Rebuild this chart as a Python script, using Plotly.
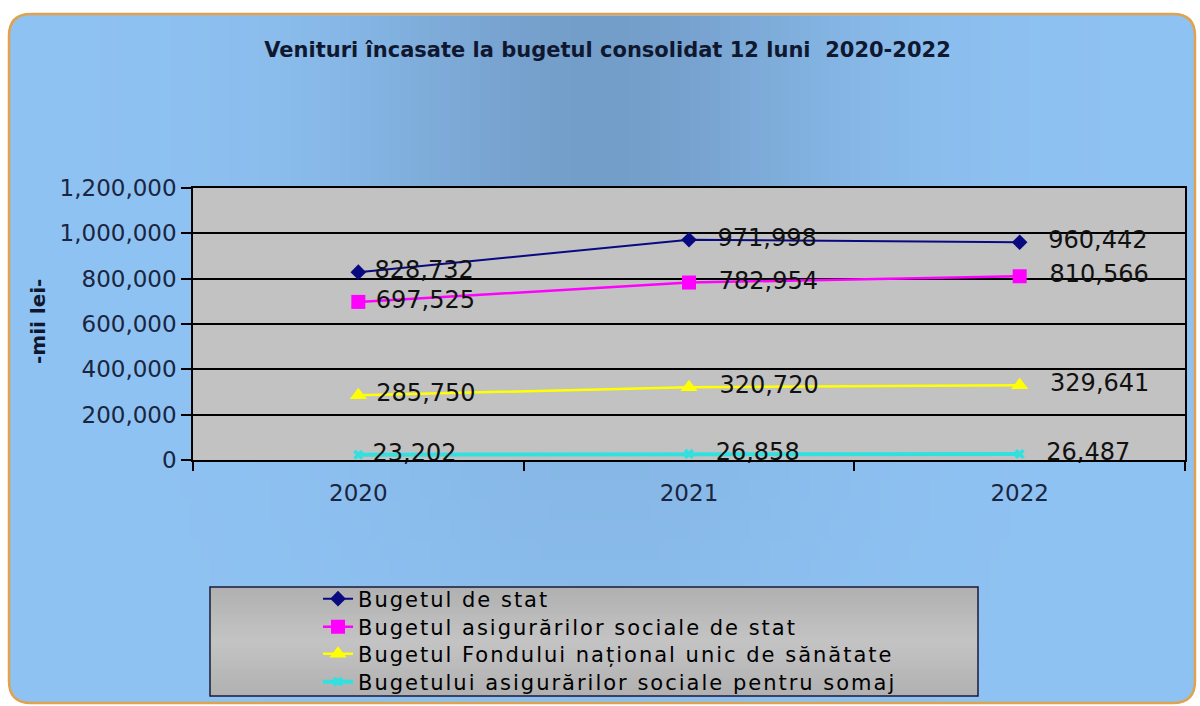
import math
import plotly.graph_objects as go

# ---------------- data ----------------
years = ["2020", "2021", "2022"]
bugetul_de_stat = [828732, 971998, 960442]
asigurari_sociale = [697525, 782954, 810566]
fond_sanatate = [285750, 320720, 329641]
somaj = [23202, 26858, 26487]

series_names = [
    "Bugetul de stat",
    "Bugetul asigurărilor sociale de stat",
    "Bugetul Fondului național unic de sănătate",
    "Bugetului asigurărilor sociale pentru somaj",
]
y_ticks = [0, 200000, 400000, 600000, 800000, 1000000, 1200000]

title_text = "Venituri încasate la bugetul consolidat 12 luni  2020-2022"
y_title = "-mii lei-"

# ---------------- layout geometry (pixels) ----------------
W, H = 1200, 706
L, R, T, B = 193, 15, 188, 246
PW = W - L - R
PH = H - T - B


def px(xp):
    return (xp - L) / PW


def py(yp):
    return (H - B - yp) / PH


fig = go.Figure()

styles = [
    dict(color="#0a0a80", symbol="diamond", size=12, width=2),
    dict(color="#ff00ff", symbol="square", size=14, width=2.5),
    dict(color="#ffff00", symbol="triangle-up", size=15, width=2.5),
    dict(color="#33e0e0", symbol="x", size=9, width=4),
]
values = [bugetul_de_stat, asigurari_sociale, fond_sanatate, somaj]
legend_ids = ["legend", "legend2", "legend3", "legend4"]
legend_rows = [599, 627, 654, 682]

# label spacing from the marker differs per year in the reference
NB = "\u00a0"
TS = "\u2009"
label_templates = [NB + "%{y:,d}", NB + NB + TS + "%{y:,d}", NB + NB + TS + "%{y:,d}"]

for name, vals, st, lg in zip(series_names, values, styles, legend_ids):
    fig.add_trace(
        go.Scatter(
            x=years,
            y=vals,
            mode="lines+markers+text",
            name='<span style="letter-spacing:2px">' + name + "</span>",
            legend=lg,
            line=dict(color=st["color"], width=st["width"]),
            marker=dict(symbol=st["symbol"], size=st["size"], color=st["color"],
                        line=dict(width=0)),
            texttemplate=label_templates,
            textposition="middle right",
            textfont=dict(family="DejaVu Sans", size=24, color="#111111"),
            cliponaxis=False,
        )
    )

shapes = []

# outer rounded frame
x0, x1, y0, y1 = 9, 1195, 14, 703
r = 22
path = (
    f"M {px(x0 + r)},{py(y0)} L {px(x1 - r)},{py(y0)} "
    f"Q {px(x1)},{py(y0)} {px(x1)},{py(y0 + r)} "
    f"L {px(x1)},{py(y1 - r)} Q {px(x1)},{py(y1)} {px(x1 - r)},{py(y1)} "
    f"L {px(x0 + r)},{py(y1)} Q {px(x0)},{py(y1)} {px(x0)},{py(y1 - r)} "
    f"L {px(x0)},{py(y0 + r)} Q {px(x0)},{py(y0)} {px(x0 + r)},{py(y0)} Z"
)
shapes.append(dict(type="path", path=path, xref="paper", yref="paper",
                   fillcolor="#8ec2f2", line=dict(color="#e0a24c", width=2.5),
                   layer="below"))

# soft darker shading in the background (decoration)
base = (142, 194, 242)
dark = (116, 158, 202)
bands = [(16, 188, 1.0)]
yb = 460
while yb < 700:
    frac = 0.3 - 0.22 * (yb - 460) / 240
    bands.append((yb, yb + 20, frac))
    yb += 20
step = 10
for (ya, yb, f) in bands:
    xs = 60
    while xs < 1140:
        xc = xs + step / 2
        t = math.exp(-((xc - 600) / 240) ** 2) * f
        col = tuple(int(round(b + (d - b) * t)) for b, d in zip(base, dark))
        shapes.append(dict(type="rect", xref="paper", yref="paper",
                           x0=px(xs), x1=px(xs + step + 0.5), y0=py(yb + 0.5), y1=py(ya),
                           fillcolor="rgb(%d,%d,%d)" % col, line=dict(width=0),
                           layer="below"))
        xs += step

# plot area background
shapes.append(dict(type="rect", xref="paper", yref="paper", x0=0, x1=1, y0=0, y1=1,
                   fillcolor="#c2c2c2", line=dict(width=0), layer="below"))

# legend box (light in the middle, darker at top and bottom)
lb_top, lb_bot = 587, 696
n_strips = 36
for i in range(n_strips):
    ya = lb_top + (lb_bot - lb_top) * i / n_strips
    yb2 = lb_top + (lb_bot - lb_top) * (i + 1) / n_strips
    mid = (i + 0.5) / n_strips
    v = int(round(176 + 20 * (1 - abs(mid - 0.5) * 2)))
    shapes.append(dict(type="rect", xref="paper", yref="paper",
                       x0=px(210), x1=px(978), y0=py(min(yb2 + 1, lb_bot)), y1=py(ya),
                       fillcolor="rgb(%d,%d,%d)" % (v, v, v), line=dict(width=0),
                       layer="below"))
shapes.append(dict(type="rect", xref="paper", yref="paper",
                   x0=px(210), x1=px(978), y0=py(lb_bot), y1=py(lb_top),
                   fillcolor="rgba(0,0,0,0)", line=dict(color="#1a1a3a", width=1.5),
                   layer="below"))

legend_font = dict(family="DejaVu Sans", size=21, color="#000000")
legend_layout = {}
for lg, row in zip(legend_ids, legend_rows):
    legend_layout[lg] = dict(x=px(318), xanchor="left", y=py(row), yanchor="middle",
                             bgcolor="rgba(0,0,0,0)", borderwidth=0,
                             font=legend_font)

fig.update_layout(
    width=W,
    height=H,
    margin=dict(l=L, r=R, t=T, b=B, autoexpand=False),
    paper_bgcolor="white",
    plot_bgcolor="rgba(0,0,0,0)",
    shapes=shapes,
    showlegend=True,
    title=dict(text="<b>" + title_text + "</b>", x=(262 + 953) / 2 / W, xref="container",
               xanchor="center", y=1 - 50 / H, yanchor="middle",
               font=dict(family="DejaVu Sans", size=21, color="#101830")),
    annotations=[
        dict(text="<b>" + y_title + "</b>", xref="paper", yref="paper",
             x=px(38), y=py(322), textangle=-90, showarrow=False,
             xanchor="center", yanchor="middle",
             font=dict(family="DejaVu Sans", size=20, color="#101830"))
    ],
    **legend_layout,
)

fig.update_xaxes(
    type="category",
    range=[-0.5, 2.5],
    tickson="boundaries",
    ticks="outside",
    ticklen=9,
    tickcolor="black",
    tickwidth=1.5,
    showline=True,
    linecolor="black",
    linewidth=1.5,
    mirror=True,
    showgrid=False,
    ticklabelstandoff=12,
    tickfont=dict(family="DejaVu Sans", size=23, color="#1a2540"),
)
fig.update_yaxes(
    range=[0, 1200000],
    tickvals=y_ticks,
    tickformat=",d",
    ticks="outside",
    ticklen=10,
    tickcolor="black",
    tickwidth=1.5,
    showline=True,
    linecolor="black",
    linewidth=1.5,
    mirror=True,
    showgrid=True,
    gridcolor="black",
    gridwidth=1.5,
    zeroline=False,
    tickfont=dict(family="DejaVu Sans", size=23, color="#1a2540"),
)

fig.write_html(
    "out.html",
    config={"displayModeBar": False},
    post_script="document.body.style.margin='0px';document.body.style.overflow='hidden';",
)
